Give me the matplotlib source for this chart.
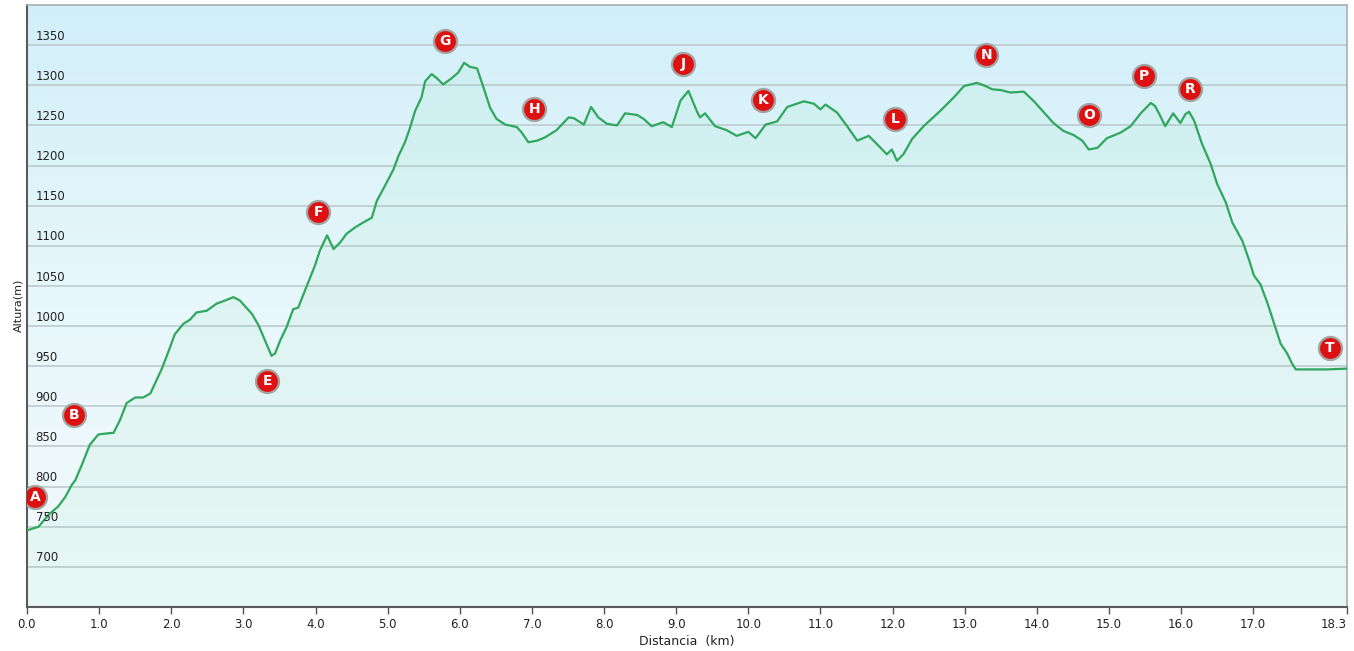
import numpy as np
import matplotlib
matplotlib.use("Agg")
import matplotlib.pyplot as plt
from matplotlib.colors import LinearSegmentedColormap

# ---------------- data ----------------
dist_km = [0.00, 0.02, 0.16, 0.30, 0.43, 0.53, 0.62, 0.67, 0.76, 0.87, 0.99, 1.08, 1.20, 1.29,
           1.38, 1.50, 1.61, 1.71, 1.87, 1.96, 2.05, 2.17, 2.26, 2.35, 2.49, 2.63, 2.75, 2.86,
           2.95, 3.12, 3.21, 3.30, 3.39, 3.44, 3.51, 3.60, 3.69, 3.76, 3.88, 3.99, 4.06, 4.16,
           4.25, 4.34, 4.43, 4.55, 4.66, 4.78, 4.85, 4.94, 5.08, 5.15, 5.24, 5.31, 5.38, 5.47,
           5.52, 5.61, 5.68, 5.77, 5.89, 5.98, 6.06, 6.14, 6.24, 6.33, 6.42, 6.51, 6.63, 6.79,
           6.86, 6.95, 7.07, 7.18, 7.34, 7.51, 7.58, 7.72, 7.82, 7.92, 8.04, 8.18, 8.29, 8.46,
           8.55, 8.66, 8.82, 8.94, 9.06, 9.17, 9.29, 9.33, 9.40, 9.54, 9.70, 9.84, 10.00, 10.10,
           10.24, 10.40, 10.54, 10.67, 10.77, 10.91, 11.00, 11.07, 11.23, 11.37, 11.51, 11.67,
           11.78, 11.92, 11.99, 12.06, 12.15, 12.27, 12.43, 12.66, 12.85, 12.99, 13.17, 13.29,
           13.38, 13.50, 13.63, 13.82, 13.96, 14.10, 14.23, 14.37, 14.51, 14.63, 14.72, 14.84,
           14.97, 15.16, 15.30, 15.44, 15.58, 15.64, 15.71, 15.78, 15.89, 15.99, 16.06, 16.11,
           16.18, 16.29, 16.41, 16.50, 16.62, 16.71, 16.85, 16.94, 17.01, 17.10, 17.20, 17.29,
           17.38, 17.47, 17.54, 17.59, 17.75, 18.02, 18.30]
alt_m = [746, 746, 750, 765, 775, 787, 802, 808, 827, 852, 865, 866, 867, 883,
         904, 911, 911, 916, 947, 968, 990, 1003, 1008, 1017, 1019, 1028, 1032, 1036,
         1032, 1015, 1001, 982, 963, 966, 982, 999, 1021, 1023, 1050, 1075, 1094, 1113,
         1096, 1104, 1115, 1123, 1129, 1135, 1156, 1171, 1195, 1212, 1229, 1247, 1268, 1285,
         1305, 1314, 1309, 1301, 1309, 1316, 1328, 1323, 1321, 1297, 1272, 1258, 1251, 1248,
         1241, 1229, 1231, 1235, 1244, 1260, 1259, 1251, 1273, 1260, 1252, 1250, 1265, 1263,
         1258, 1249, 1254, 1248, 1281, 1293, 1267, 1260, 1265, 1249, 1244, 1237, 1242, 1234,
         1251, 1255, 1273, 1277, 1280, 1277, 1270, 1276, 1266, 1249, 1231, 1237,
         1227, 1214, 1220, 1206, 1214, 1233, 1249, 1268, 1285, 1299, 1303, 1299,
         1295, 1294, 1291, 1292, 1280, 1266, 1253, 1243, 1238, 1231, 1220, 1222,
         1234, 1241, 1249, 1265, 1278, 1274, 1262, 1249, 1265, 1253, 1264, 1267,
         1256, 1227, 1202, 1177, 1154, 1129, 1106, 1083, 1063, 1052, 1028, 1003,
         978, 966, 953, 946, 946, 946, 947]

marker_labels = ["A", "B", "E", "F", "G", "H", "J", "K", "L", "N", "O", "P", "R", "T"]
marker_km = [0.11, 0.65, 3.33, 4.04, 5.80, 7.03, 9.10, 10.21, 12.03, 13.30, 14.72, 15.48, 16.13, 18.06]
marker_alt = [787, 889, 931, 1142, 1355, 1270, 1326, 1282, 1258, 1338, 1263, 1311, 1295, 973]

x_ticks = [0, 1, 2, 3, 4, 5, 6, 7, 8, 9, 10, 11, 12, 13, 14, 15, 16, 17, 18.3]
x_tick_labels = ["0.0", "1.0", "2.0", "3.0", "4.0", "5.0", "6.0", "7.0", "8.0", "9.0",
                 "10.0", "11.0", "12.0", "13.0", "14.0", "15.0", "16.0", "17.0", "18.3"]
y_ticks = [700, 750, 800, 850, 900, 950, 1000, 1050, 1100, 1150, 1200, 1250, 1300, 1350]

x_label = "Distancia  (km)"
y_label = "Altura(m)"

# ---------------- figure ----------------
W, H = 1354, 651
fig = plt.figure(figsize=(W / 100, H / 100), dpi=100)
fig.patch.set_facecolor("white")
ax = fig.add_axes([27 / W, 1 - 607 / H, 1320 / W, 602 / H])

xmin, xmax = 0, 18.3
ymin, ymax = 650, 1400
ax.set_xlim(xmin, xmax)
ax.set_ylim(ymin, ymax)

# background gradient (blue top -> pale bottom)
bg_cmap = LinearSegmentedColormap.from_list("bg", ["#f2fafc", "#e8f7fb", "#d2eff9"])
grad = np.linspace(0, 1, 256).reshape(-1, 1)
ax.imshow(grad, extent=[xmin, xmax, ymin, ymax], origin="lower", aspect="auto",
          cmap=bg_cmap, zorder=0, interpolation="bicubic")

# grid lines
for yt in y_ticks:
    ax.axhline(yt, color="#bccbcf", lw=1.2, zorder=1)

# fill under curve (green tint)
ax.fill_between(dist_km, alt_m, ymin, color="#6ddc9f", alpha=0.08, lw=0, zorder=2)
ax.plot(dist_km, alt_m, color="#2fa75c", lw=1.6, zorder=3, solid_joinstyle="round")

# markers
ax.scatter(marker_km, marker_alt, s=23 ** 2 * 0.52, c="#dd1111", edgecolors="#a3a3a3",
           linewidths=1.6, zorder=5)
for lab, mx, my in zip(marker_labels, marker_km, marker_alt):
    ax.text(mx, my, lab, color="white", fontsize=10, fontweight="bold",
            ha="center", va="center", zorder=6, family="DejaVu Sans")

# y tick labels inside the plot
ax.set_yticks([])
for yt in y_ticks:
    ax.text(0.12, yt + 3, str(yt), fontsize=8.5, color="#222222", ha="left", va="bottom",
            zorder=4)

ax.set_xticks(x_ticks)
ax.set_xticklabels(x_tick_labels, fontsize=8.5, color="#222222")
ax.get_xticklabels()[-1].set_horizontalalignment("right")
ax.tick_params(axis="x", direction="out", length=5, width=1, color="#555555", pad=3)

ax.set_xlabel(x_label, fontsize=9, color="#222222", labelpad=3)
fig.text(18 / W, 1 - 305 / H, y_label, rotation=90, fontsize=8, color="#222222",
         ha="center", va="center")

for side in ["left", "bottom"]:
    ax.spines[side].set_color("#5a5a5a")
    ax.spines[side].set_linewidth(1.5)
for side in ["top", "right"]:
    ax.spines[side].set_color("#a8b0b3")
    ax.spines[side].set_linewidth(1.2)

fig.savefig("out.png", dpi=100)
